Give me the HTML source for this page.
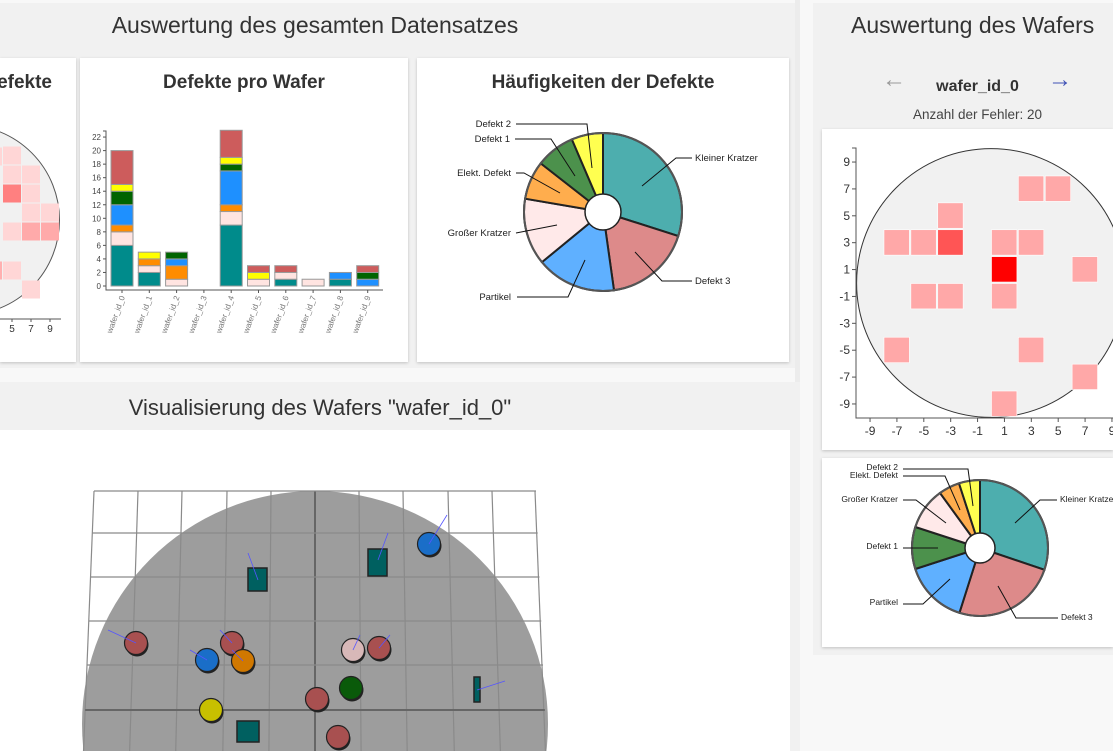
<!DOCTYPE html>
<html><head><meta charset="utf-8"><style>
html,body{margin:0;width:1113px;height:751px;overflow:hidden}
body{background:#f8f8f8;font-family:"Liberation Sans",sans-serif;position:relative}
.abs{position:absolute}
.card{position:absolute;background:#fff;box-shadow:0 1px 3px rgba(0,0,0,.2)}
.ttl{position:absolute;font-size:19px;font-weight:bold;color:#333;white-space:nowrap}
</style></head><body>
<div class="abs" style="left:0;top:3px;width:800px;height:365px;background:#f1f1f1"></div>
<div class="abs" style="left:0;top:12px;width:630px;text-align:center;font-size:23px;color:#333">Auswertung des gesamten Datensatzes</div>
<div class="abs" style="left:813px;top:3px;width:300px;height:652px;background:#f1f1f1"></div>
<div class="abs" style="left:795px;top:0;width:5px;height:751px;background:#ececec"></div>
<div class="abs" style="left:851px;top:12px;font-size:23px;color:#333;white-space:nowrap">Auswertung des Wafers</div>
<div class="abs" style="left:882px;top:66px;font-size:24px;color:#999">&#8592;</div>
<div class="abs" style="left:1048px;top:66px;font-size:24px;color:#3f51b5">&#8594;</div>
<div class="abs" style="left:900px;top:78px;width:155px;text-align:center;font-size:16px;font-weight:bold;color:#333">wafer_id_0</div>
<div class="abs" style="left:880px;top:107px;width:195px;text-align:center;font-size:13.5px;color:#444">Anzahl der Fehler: 20</div>

<div class="card" style="left:0;top:58px;width:76px;height:304px;overflow:hidden"><div class="ttl" style="right:24px;top:14px">Defekte</div></div>
<div class="card" style="left:80px;top:58px;width:328px;height:304px"><div class="ttl" style="left:0;width:328px;text-align:center;top:14px">Defekte pro Wafer</div></div>
<div class="card" style="left:417px;top:58px;width:372px;height:304px"><div class="ttl" style="left:0;width:372px;text-align:center;top:14px">Häufigkeiten der Defekte</div></div>
<div class="card" style="left:822px;top:129px;width:291px;height:321px"></div>
<div class="card" style="left:822px;top:458px;width:291px;height:189px"></div>

<div class="abs" style="left:0;top:382px;width:800px;height:369px;background:#f1f1f1"></div>
<div class="abs" style="left:0;top:395px;width:640px;text-align:center;font-size:22px;color:#333">Visualisierung des Wafers "wafer_id_0"</div>
<div class="abs" style="left:0;top:430px;width:790px;height:321px;background:#fff"></div>

<svg class="abs" style="left:0;top:0" width="1113" height="751" id="s" font-family="Liberation Sans, sans-serif"></svg>
<script>
(function(){
const s=document.getElementById('s');let h='';
h+='<defs><clipPath id="c1"><rect x="0" y="58" width="76" height="304"/></clipPath><clipPath id="c2"><rect x="0" y="430" width="790" height="321"/></clipPath><clipPath id="c3"><rect x="822" y="129" width="291" height="321"/></clipPath></defs>';
h+='<g clip-path="url(#c1)"><circle cx="-35.5" cy="220" r="95" fill="#f1f1f1" stroke="#555"/>';
const lc=[[-16.5,147,'#ffd6d6'],[2.5,146,'#ffd6d6'],[2.5,165,'#ffd6d6'],[21.5,165,'#ffd6d6'],[2.5,184,'#ff8080'],[21.5,184,'#ffd6d6'],[21.5,203,'#ffd6d6'],[40.5,203,'#ffd6d6'],[2.5,222,'#ffd6d6'],[21.5,222,'#ffaaaa'],[40.5,222,'#ffaaaa'],[-16.5,261,'#ffb0b0'],[2.5,261,'#ffd6d6'],[21.5,280,'#ffd6d6']];
lc.forEach(c=>h+=`<rect x="${c[0]+0.5}" y="${c[1]+0.5}" width="18" height="18" fill="${c[2]}"/>`);
h+='<line x1="0" y1="319" x2="61" y2="319" stroke="#555"/>';
[[12,'5'],[31,'7'],[50,'9']].forEach(t=>h+=`<line x1="${t[0]}" y1="319" x2="${t[0]}" y2="322" stroke="#555"/><text x="${t[0]}" y="332" font-size="10" text-anchor="middle" fill="#333">${t[1]}</text>`);
h+='</g>';
const u=6.77,y0=286,cols=['#008b8b','#ffe4e1','#ff8c00','#1e90ff','#006400','#ffff00','#cd5c5c'];
const data=[[6,2,1,3,2,1,5],[2,1,1,0,0,1,0],[0,1,2,1,1,0,0],[0,0,0,0,0,0,0],[9,2,1,5,1,1,4],[0,1,0,0,0,1,1],[1,1,0,0,0,0,1],[0,1,0,0,0,0,0],[1,0,0,1,0,0,0],[0,0,0,1,1,0,1]];
data.forEach((d,i)=>{const x=111+i*27.3;let y=y0;d.forEach((v,k)=>{if(v){h+=`<rect x="${x}" y="${y-v*u}" width="22" height="${v*u}" fill="${cols[k]}" stroke="#999" stroke-width="1"/>`;y-=v*u;}});
h+=`<line x1="${x+11}" y1="290" x2="${x+11}" y2="293" stroke="#555"/><text transform="translate(${x+14},297) rotate(-70)" font-size="8" text-anchor="end" fill="#777">wafer_id_${i}</text>`;});
h+='<path d="M103,131H106V290H383" fill="none" stroke="#555"/>';
for(let v=0;v<=22;v+=2){const y=y0-v*u;h+=`<line x1="103" y1="${y}" x2="106" y2="${y}" stroke="#555"/><text x="101" y="${y+3}" font-size="8" text-anchor="end" fill="#444">${v}</text>`;}
function pie(cx,cy,r,ri,sl){let a0=0;sl.forEach(p=>{const a1=p[0];const A=x=>[cx+r*Math.sin(x*Math.PI/180),cy-r*Math.cos(x*Math.PI/180)];const P0=A(a0),P1=A(a1);h+=`<path d="M${cx},${cy}L${P0[0]},${P0[1]}A${r},${r} 0 ${a1-a0>180?1:0} 1 ${P1[0]},${P1[1]}Z" fill="${p[1]}" stroke="#222" stroke-width="2"/>`;a0=a1;});
h+=`<circle cx="${cx}" cy="${cy}" r="${r}" fill="none" stroke="#555" stroke-width="2"/><circle cx="${cx}" cy="${cy}" r="${ri}" fill="#fff" stroke="#222" stroke-width="1.5"/>`;}
pie(603,212,79,18,[[107.7,'#4daeae'],[172,'#dd8a8a'],[230.6,'#5fb0ff'],[279.7,'#ffe9e9'],[308,'#ffad4d'],[336.8,'#4c914c'],[360,'#ffff50']]);
function lab(t,x,y,anc,pts,fs){h+=`<text x="${x}" y="${y}" font-size="${fs}" text-anchor="${anc}" fill="#222">${t}</text><polyline points="${pts}" fill="none" stroke="#111" stroke-width="1"/>`;}
lab('Defekt 2',511,127,'end','516,124 587,124 592,168',9.5);
lab('Defekt 1',510,142,'end','515,139 551,139 575,176',9.5);
lab('Elekt. Defekt',511,176,'end','516,173 524,173 560,193',9.5);
lab('Großer Kratzer',511,236,'end','516,233 557,225',9.5);
lab('Partikel',511,300,'end','517,297 568,297 585,260',9.5);
lab('Kleiner Kratzer',695,161,'start','692,158 676,158 642,186',9.5);
lab('Defekt 3',695,284,'start','692,281 662,281 635,252',9.5);
pie(980,548,68,15,[[108.7,'#4daeae'],[197.6,'#dd8a8a'],[252,'#5fb0ff'],[288,'#4c914c'],[324,'#ffe9e9'],[342,'#ffad4d'],[360,'#ffff50']]);
lab('Defekt 2',898,470,'end','903,469 968,469 973,506',8.5);
lab('Elekt. Defekt',898,478,'end','903,476 945,476 960,510',8.5);
lab('Großer Kratzer',898,502,'end','903,500 916,500 946,523',8.5);
lab('Defekt 1',898,549,'end','903,548 938,548',8.5);
lab('Partikel',898,605,'end','903,604 923,604 950,579',8.5);
lab('Kleiner Kratzer',1060,502,'start','1057,500 1040,500 1015,523',8.5);
lab('Defekt 3',1061,620,'start','1058,618 1016,618 998,586',8.5);
const X=v=>991+v*13.44,Y=v=>283-v*13.44;
h+='<g clip-path="url(#c3)"><circle cx="991" cy="283" r="134.4" fill="#f1f1f1" stroke="#333"/>';
const rc=[[2,8],[4,8],[-4,6],[-8,4],[-6,4],[-4,4,'#ff5555'],[0,4],[2,4],[0,2,'#ff0000'],[6,2],[-6,0],[-4,0],[0,0],[-8,-4],[2,-4],[6,-6],[0,-8]];
rc.forEach(c=>h+=`<rect x="${X(c[0])+0.5}" y="${Y(c[1])+0.5}" width="25.4" height="25.4" fill="${c[2]||'#ffa8a8'}" stroke="#fff" stroke-width="0.6"/>`);
h+='<path d="M852,148H856V418H1113" fill="none" stroke="#555"/>';
for(let v=-9;v<=9;v+=2){h+=`<line x1="852" y1="${Y(v)}" x2="856" y2="${Y(v)}" stroke="#555"/><text x="850" y="${Y(v)+4}" font-size="12" text-anchor="end" fill="#333">${v}</text>`;
h+=`<line x1="${X(v)}" y1="418" x2="${X(v)}" y2="422" stroke="#555"/><text x="${X(v)}" y="435" font-size="12" text-anchor="middle" fill="#333">${v}</text>`;}
h+='</g>';
h+='<g clip-path="url(#c2)"><circle cx="315" cy="724" r="233" fill="#9d9d9d"/>';
const tops=[94,138,182,227,271,315,359,403,448,492,535];
tops.forEach(x=>{const bx=315+(x-315)*1.049;h+=`<line x1="${x}" y1="491" x2="${bx}" y2="760" stroke="${x==315?'#666':'#8a8a8a'}" stroke-width="${x==315?2:1.2}"/>`;});
[491,533,577,621,665,710].forEach(y=>{const f=1+0.04*(y-491)/219;h+=`<line x1="${315-221*f}" y1="${y}" x2="${315+221*f}" y2="${y}" stroke="${y==710?'#666':'#8a8a8a'}" stroke-width="${y==710?2:1.2}"/>`;});
const rects=[[248,568,19,23],[368,549,19,27],[237,721,22,21],[474,677,6,25]];
rects.forEach(r=>h+=`<rect x="${r[0]}" y="${r[1]}" width="${r[2]}" height="${r[3]}" fill="#006060" stroke="#222" stroke-width="1.5"/>`);
const circ=[[429,544,'#1a6ec8'],[136,643,'#a85050'],[207,660,'#1a6ec8'],[232,643,'#a85050'],[243,661,'#d07800'],[353,650,'#d8b8b8'],[379,648,'#a85050'],[351,688,'#0a5a0a'],[317,699,'#a85050'],[211,710,'#c8c000'],[338,737,'#a85050']];
circ.forEach(c=>h+=`<circle cx="${c[0]+1}" cy="${c[1]+2}" r="11.5" fill="#222"/><circle cx="${c[0]}" cy="${c[1]}" r="11.5" fill="${c[2]}" stroke="#222" stroke-width="1.2"/>`);
[[429,544,447,515],[136,643,108,630],[258,580,248,553],[378,560,388,533],[207,660,190,650],[232,643,220,630],[243,661,232,650],[353,650,360,635],[379,648,390,635],[477,690,505,681]].forEach(l=>h+=`<line x1="${l[0]}" y1="${l[1]}" x2="${l[2]}" y2="${l[3]}" stroke="#55f" stroke-width="0.8"/>`);
h+='</g>';
s.innerHTML=h;
})();
</script>
</body></html>
